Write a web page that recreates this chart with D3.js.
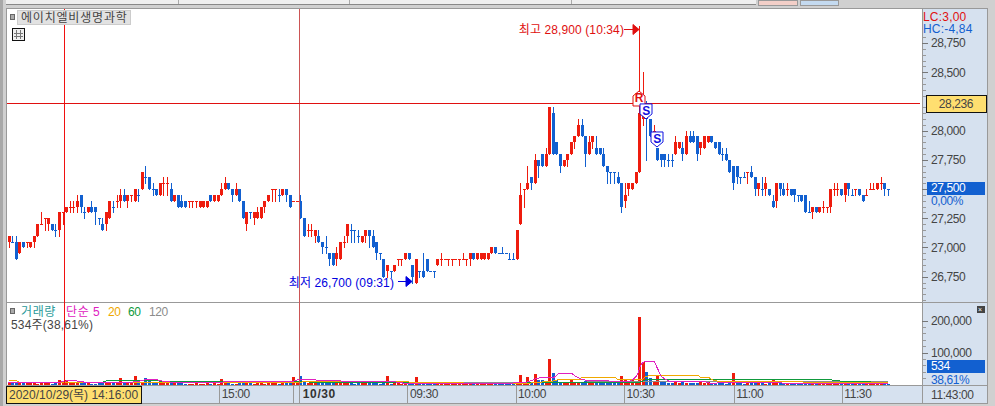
<!DOCTYPE html>
<html lang="ko">
<head>
<meta charset="UTF-8">
<title>에이치엘비생명과학</title>
<script src="https://d3js.org/d3.v7.min.js"></script>
<style>
  html, body { margin: 0; padding: 0; background: #d0d0d0; overflow: hidden; }
  svg { display: block; }
  text { font-family: "Liberation Sans", "Noto Sans CJK KR", sans-serif; font-size: 12px; letter-spacing: -0.4px; fill: #444; }
</style>
</head>
<body>
<div id="chart"></div>
<script>
const opens = [
  27050,27050,27050,26950,27050,27050,27000,27050,27100,27200,
  27250,27200,27200,27150,27150,27300,27300,27350,27350,27350,
  27450,27300,27300,27350,27350,27250,27200,27200,27250,27350,
  27400,27400,27450,27400,27450,27400,27450,27500,27600,27600,
  27500,27500,27450,27550,27550,27500,27400,27450,27400,27400,
  27400,27400,27400,27350,27350,27350,27450,27400,27400,27450,
  27500,27550,27500,27450,27500,27400,27200,27300,27250,27250,
  27250,27350,27400,27500,27500,27450,27450,27500,27450,27400,
  27400,27400,27250,27150,27150,27100,27100,27050,27000,26950,
  26950,26900,26900,27050,27100,27150,27150,27100,27050,27100,
  27150,27100,27050,26950,26900,26800,26800,26800,26900,26900,
  26900,26950,26850,26700,26800,26800,26900,26800,26800,26850,
  26900,26900,26900,26900,26900,26900,26900,26900,26900,26950,
  26900,26900,26900,26900,26950,27000,26950,26950,26950,26900,
  26900,26900,27200,27500,27500,27600,27550,27750,27800,27700,
  27800,28150,27900,27800,27700,27750,27800,27900,27950,28050,
  27950,27800,27900,27850,27850,27800,27700,27650,27650,27600,
  27550,27400,27500,27500,27550,27650,28100,28200,28100,28000,
  27850,27800,27800,27750,27750,27800,27850,27850,27800,27950,
  27950,27950,27850,27850,27900,27950,27900,27900,27800,27800,
  27750,27700,27700,27600,27600,27650,27650,27600,27500,27500,
  27500,27500,27400,27400,27550,27500,27500,27500,27500,27450,
  27450,27450,27300,27300,27350,27300,27350,27350,27350,27500,
  27500,27500,27450,27550,27450,27500,27500,27450,27450,27500,
  27500,27500,27550,27550,27500
];
const closes = [
  27100,27050,26900,27050,27000,27050,27050,27100,27200,27200,
  27250,27250,27150,27150,27300,27300,27350,27350,27350,27400,
  27350,27300,27350,27300,27300,27250,27150,27300,27400,27350,
  27400,27450,27400,27450,27450,27500,27450,27650,27600,27500,
  27500,27450,27550,27550,27550,27400,27450,27350,27350,27350,
  27400,27400,27400,27400,27400,27400,27400,27450,27450,27500,
  27550,27500,27450,27500,27400,27250,27300,27300,27300,27300,
  27350,27400,27450,27500,27500,27450,27500,27450,27350,27400,
  27400,27250,27100,27150,27150,27150,27050,27000,27000,26900,
  26850,26950,27050,27050,27200,27150,27150,27100,27100,27150,
  27100,27000,26950,26950,26750,26850,26800,26850,26900,26900,
  26950,26900,26750,26900,26800,26750,26800,26800,26800,26900,
  26900,26900,26900,26900,26900,26900,26900,26900,26950,26900,
  26950,26950,26950,26950,27000,26950,26950,26950,26950,26900,
  26900,27150,27450,27500,27550,27550,27750,27700,27700,27800,
  28200,27800,27800,27700,27750,27800,27900,27950,28050,27950,
  27800,27900,27950,27800,27800,27700,27650,27650,27650,27550,
  27350,27450,27550,27550,27650,28150,28250,28100,27950,28000,
  27750,27750,27750,27750,27750,27900,27900,27800,27950,27900,
  27900,27800,27900,27950,27950,27900,27850,27800,27800,27750,
  27650,27550,27600,27600,27600,27650,27600,27500,27550,27500,
  27550,27450,27350,27550,27500,27450,27500,27450,27450,27450,
  27400,27300,27300,27350,27300,27350,27350,27350,27500,27500,
  27500,27450,27550,27500,27450,27500,27450,27400,27450,27500,
  27500,27550,27550,27500,27500
];
const highs = [
  27100,27100,27100,27050,27050,27050,27050,27100,27200,27300,
  27250,27250,27200,27200,27300,27300,27350,27400,27400,27450,
  27450,27350,27350,27400,27350,27250,27250,27300,27400,27400,
  27450,27500,27500,27450,27450,27500,27500,27650,27700,27600,
  27550,27500,27550,27600,27600,27550,27450,27450,27450,27400,
  27400,27400,27400,27400,27400,27400,27450,27450,27450,27550,
  27600,27550,27500,27550,27500,27400,27300,27300,27300,27350,
  27350,27400,27450,27500,27500,27500,27500,27500,27450,27400,
  27400,27450,27250,27200,27200,27150,27150,27050,27100,26950,
  26950,27000,27050,27100,27200,27200,27150,27150,27100,27150,
  27150,27150,27050,26950,26900,26850,26800,26850,26900,26900,
  26950,26950,26850,26900,26800,26950,26900,26800,26800,26900,
  26950,26900,26900,26900,26900,26900,26950,26900,26950,26950,
  26950,26950,26950,26950,27000,27000,26950,27000,26950,26950,
  26950,27150,27550,27500,27700,27600,27800,27750,27800,27850,
  28200,28200,27900,27800,27750,27800,27900,27950,28100,28100,
  27950,27950,27950,27950,27850,27850,27700,27650,27650,27650,
  27550,27550,27550,27550,27650,28900,28500,28250,28100,28050,
  27850,27800,27800,27800,27800,27950,27900,27900,28000,28000,
  28000,27950,27900,27950,27950,27950,27900,27900,27850,27850,
  27750,27700,27700,27600,27650,27650,27700,27600,27550,27600,
  27600,27500,27450,27550,27550,27550,27550,27500,27500,27450,
  27450,27450,27400,27350,27350,27350,27400,27350,27500,27550,
  27550,27500,27550,27550,27500,27500,27500,27450,27500,27550,
  27550,27550,27600,27550,27500
];
const lows = [
  27000,27050,26900,26950,27000,27000,27000,27000,27100,27200,
  27150,27150,27150,27100,27100,27200,27300,27300,27300,27300,
  27300,27250,27300,27300,27200,27200,27150,27150,27250,27300,
  27350,27350,27400,27350,27400,27400,27400,27500,27550,27500,
  27450,27450,27450,27450,27450,27400,27400,27350,27350,27350,
  27350,27350,27350,27350,27350,27350,27400,27400,27400,27450,
  27500,27500,27400,27450,27400,27250,27150,27250,27200,27250,
  27250,27300,27400,27400,27400,27400,27450,27400,27350,27400,
  27400,27250,27100,27100,27100,27050,27050,26950,26950,26850,
  26850,26850,26900,27000,27050,27050,27050,27050,27050,27050,
  27000,27000,26900,26900,26750,26750,26750,26800,26850,26850,
  26900,26900,26700,26700,26750,26750,26800,26800,26750,26850,
  26850,26900,26850,26850,26900,26850,26900,26850,26850,26900,
  26900,26900,26900,26900,26950,26950,26950,26950,26950,26900,
  26900,26900,27200,27350,27500,27500,27550,27600,27700,27700,
  27800,27800,27800,27650,27700,27700,27800,27850,27950,27950,
  27700,27800,27850,27800,27800,27700,27550,27550,27550,27550,
  27300,27350,27450,27500,27550,27650,28050,27750,27950,27950,
  27750,27700,27700,27700,27700,27800,27850,27750,27800,27900,
  27900,27750,27800,27850,27900,27900,27850,27800,27750,27750,
  27650,27500,27550,27550,27600,27550,27600,27450,27450,27450,
  27450,27450,27350,27350,27450,27450,27450,27450,27400,27400,
  27400,27300,27300,27250,27300,27300,27300,27300,27300,27450,
  27450,27450,27400,27450,27450,27450,27450,27400,27450,27500,
  27500,27500,27500,27450,27450
];
// 시가=종가인데 파란색으로 찍힌 봉
const flatDown = [1,13,21,25,29,36,38,40,67,75,88,95,96,97,103,106,114,117,118,136,137,138,139,140,167,168,183,184,198,203,204,209,219,222,234,244];
const volumes = [
  6000,8000,9000,5000,4000,6000,5000,4000,3000,4000,
  5000,4000,3000,4000,15000,6000,14000,8000,7000,9000,
  6000,5000,4000,3000,3000,4000,5000,6000,4000,5000,
  7000,20000,6000,7000,5000,26000,9000,9000,21000,16000,
  9000,6000,5000,8000,4000,6000,5000,7000,4000,3000,
  2500,3000,4000,3000,3000,3500,3000,5000,3000,18000,
  5000,4000,3000,3000,9000,10000,5000,4000,3000,4000,
  4000,3000,6000,4000,5000,3000,4000,4000,5000,23000,
  5000,26000,8000,5000,4000,6000,5000,11000,6000,11000,
  8000,7000,10000,5000,6000,4000,3000,4000,6000,5000,
  5000,4000,6000,3000,5000,28000,3000,5000,4000,3000,
  4000,3000,6000,22000,4000,6000,4000,2000,2000,4000,
  3000,2000,2000,3000,2000,2000,3000,4000,5000,2000,
  3000,2000,3000,3000,4000,3000,2000,2000,2000,2000,
  3000,9000,31000,5000,24000,7000,34000,14000,14000,11000,
  81000,36000,13000,8000,7000,5000,14000,6000,5000,8000,
  10000,6000,14000,8000,7000,6000,5000,5000,4000,7000,
  28000,18000,8000,14000,9000,213000,72000,39000,20000,8000,
  26000,10000,7000,6000,5000,8000,6000,9000,5000,4000,
  6000,5000,7000,4000,8000,5000,4000,6000,5000,3000,
  10000,37000,6000,4000,3000,5000,4000,6000,5000,4000,
  3000,5000,13000,5000,4000,3000,4000,5000,3000,2000,
  3000,4000,2000,3000,2000,3000,2000,3000,4000,3000,
  2000,3000,4000,2000,3000,2000,2000,3000,2000,2000,
  3000,2000,3000,2000,534
];
// 봉은 파란데 거래량은 빨간 곳
const volumeRed = [170,180,201,212];

const ma5Idx = [0,14,16,19,22,32,36,39,41,44,55,60,66,78,81,84,87,92,97,105.5,111,134,143.6,146.4,148,151,153,156,157.6,160,172,174.5,175.4,177,179,180,181,182,184.3,193,195,198,210,220,244];
const ma5Val = [5000,7000,11000,11000,6000,6000,10000,17000,15000,8000,6000,8000,9000,8000,16000,16000,11000,11000,8500,10000,3000,3000,7000,18000,22000,21000,35000,35000,24000,14000,10000,31000,60000,73000,73000,52000,28000,18000,8500,8500,3000,6000,6000,3000,3000];
const ma20Idx = [0,2,3,53,79,84,98,134,144,147,151,153,158.6,159,168.4,169,176,177,178,191.5,192,194,195,197,220,220.8,244];
const ma20Val = [12000,12000,7000,6000,6000,9500,9500,4000,4000,7000,10500,16000,16000,21000,21000,17000,17000,26000,27000,27000,23000,23000,16000,10500,10500,5000,5000];
const ma60Idx = [0,26,27,41,134,140,144,175,177,196,210,228,232,234,244];
const ma60Val = [7000,7000,11000,11000,4000,4000,7000,7000,15000,15000,15000,14500,9500,9500,5000];
const ma120Idx = [98,139,175,196,244];
const ma120Val = [7500,7500,8000,10500,10500];

const priceTicks = [26750,27000,27250,27500,27750,28000,28500,28750];
const timeTickIdx = [58.5,78.8,80.7,110.7,140.7,170.8,201.2,231.2];
const timeTickLabels = ["15:00","","10/30","09:30","10:00","10:30","11:00","11:30"];
const volumeTicks = [100000,200000];

const red = "#ee1c0e", blue = "#1260d0";
const W = 995, H = 406;
const plotLeft = 7, plotRight = 922, plotTop = 9, sepY = 302, plotBottom = 385, axisEnd = 987;

const svg = d3.select("#chart").append("svg").attr("width", W).attr("height", H);

const x = d3.scaleLinear().domain([0, 244]).range([8.5, 887.9]);
const y = d3.scaleLinear().domain([26700, 28900]).range([282.5, 25.5]);
const yVol = d3.scaleLinear().domain([0, 200000]).range([384.5, 320.7]);
const px = v => Math.round(v);

// 창 테두리, 상단 툴바 조각
svg.append("rect").attr("width", W).attr("height", H).attr("fill", "#d0d0d0");
svg.append("rect").attr("x", 0).attr("y", 0).attr("width", 3).attr("height", H).attr("fill", "#a8a8a8");
svg.append("rect").attr("x", 6).attr("y", 0).attr("width", 750).attr("height", 4).attr("fill", "#efefef");
svg.append("rect").attr("x", 6).attr("y", 4).attr("width", 750).attr("height", 1).attr("fill", "#888");
[178, 349, 571].forEach(d => svg.append("rect").attr("x", d).attr("y", 0).attr("width", 1).attr("height", 4).attr("fill", "#aaa"));
svg.append("rect").attr("x", 758).attr("y", 0).attr("width", 39).attr("height", 5).attr("fill", "#f3cfc8").attr("stroke", "#999").attr("shape-rendering", "crispEdges");
svg.append("rect").attr("x", 800).attr("y", 0).attr("width", 38).attr("height", 5).attr("fill", "#c4daf0").attr("stroke", "#999").attr("shape-rendering", "crispEdges");

// 차트 영역
svg.append("rect").attr("x", plotLeft).attr("y", plotTop).attr("width", plotRight - plotLeft).attr("height", plotBottom - plotTop).attr("fill", "#fff");
svg.append("rect").attr("x", plotRight).attr("y", plotTop).attr("width", axisEnd - plotRight).attr("height", 395).attr("fill", "#d6e1ef");
svg.append("rect").attr("x", plotLeft).attr("y", plotBottom + 1).attr("width", plotRight - plotLeft).attr("height", 18).attr("fill", "#d6e1ef");

const frame = svg.append("g").attr("shape-rendering", "crispEdges").attr("fill", "#999");
frame.append("rect").attr("x", plotLeft - 1).attr("y", 8).attr("width", axisEnd - plotLeft + 2).attr("height", 1);
frame.append("rect").attr("x", plotLeft - 1).attr("y", 8).attr("width", 1).attr("height", 396);
frame.append("rect").attr("x", axisEnd).attr("y", 8).attr("width", 1).attr("height", 396);
frame.append("rect").attr("x", plotLeft - 1).attr("y", sepY).attr("width", axisEnd - plotLeft + 2).attr("height", 1);
frame.append("rect").attr("x", plotLeft - 1).attr("y", plotBottom).attr("width", axisEnd - plotLeft + 2).attr("height", 1);
frame.append("rect").attr("x", plotLeft - 1).attr("y", 403).attr("width", axisEnd - plotLeft + 2).attr("height", 1);
frame.append("rect").attr("x", plotRight).attr("y", 8).attr("width", 1).attr("height", 396);

// 거래량
const isUp = i => closes[i] > opens[i] || (closes[i] === opens[i] && !flatDown.includes(i));
svg.append("g").attr("shape-rendering", "crispEdges").selectAll("rect").data(volumes).join("rect")
  .attr("x", (d, i) => px(x(i)) - 1)
  .attr("width", 3)
  .attr("y", d => px(yVol(d)))
  .attr("height", d => Math.max(1, px(yVol(0)) - px(yVol(d))))
  .attr("fill", (d, i) => (isUp(i) || volumeRed.includes(i)) ? red : blue);

const maLines = [[ma120Idx, ma120Val, "#8c8c8c"], [ma60Idx, ma60Val, "#0f9a3c"], [ma20Idx, ma20Val, "#f0a800"], [ma5Idx, ma5Val, "#e020c0"]];
maLines.forEach(([idx, vals, color]) => {
  const line = d3.line().x(d => x(d)).y((d, i) => yVol(vals[i])).curve(d3.curveMonotoneX);
  svg.append("path").attr("d", line(idx)).attr("fill", "none").attr("stroke", color).attr("stroke-width", 1).attr("shape-rendering", "crispEdges");
});

// 캔들
const candle = svg.append("g").attr("shape-rendering", "crispEdges").selectAll("g").data(opens).join("g")
  .attr("fill", (d, i) => isUp(i) ? red : blue);
candle.append("rect")
  .attr("x", (d, i) => px(x(i)))
  .attr("width", 1)
  .attr("y", (d, i) => px(y(highs[i])))
  .attr("height", (d, i) => px(y(lows[i])) - px(y(highs[i])) + 1);
candle.append("rect")
  .attr("x", (d, i) => px(x(i)) - 1)
  .attr("width", 3)
  .attr("y", (d, i) => px(y(Math.max(opens[i], closes[i]))))
  .attr("height", (d, i) => Math.max(1, px(y(Math.min(opens[i], closes[i]))) - px(y(Math.max(opens[i], closes[i])))));

// 커서, 구분선
const cursorIdx = 15.4, dateIdx = 80.7, cursorPrice = 28236;
svg.append("g").attr("shape-rendering", "crispEdges").call(g => {
  g.append("rect").attr("x", px(x(cursorIdx))).attr("y", plotTop).attr("width", 1).attr("height", plotBottom - plotTop).attr("fill", "#f01010");
  g.append("rect").attr("x", px(x(dateIdx))).attr("y", plotTop).attr("width", 1).attr("height", plotBottom - plotTop).attr("fill", "#cc5555");
  g.append("rect").attr("x", plotLeft).attr("y", px(y(cursorPrice))).attr("width", plotRight - plotLeft - 2).attr("height", 1).attr("fill", "#e01010");
});

// 매매 신호 마커
const signalIdx = [175, 177, 180];
const signalLabels = ["R", "S", "S"];
const signalPrices = [28211, 28220, 27980];
signalIdx.forEach((d, i) => {
  const cx = px(x(d)), cy = y(signalPrices[i]), up = signalLabels[i] === "R";
  const color = up ? "#e01010" : "#1010e0";
  const pts = up
    ? [[-6,14],[6,14],[6,4],[0,-1],[-6,4]]
    : [[-6,-1],[6,-1],[6,9],[0,14],[-6,9]];
  svg.append("polygon").attr("points", pts.map(p => [cx + p[0], cy + (up ? -14 : 0) + p[1]].join(",")).join(" "))
    .attr("fill", "#fff").attr("stroke", color).attr("stroke-width", 1);
  svg.append("text").attr("x", cx).attr("y", cy + (up ? -14 : 0) + 10).attr("text-anchor", "middle")
    .attr("font-weight", "bold").style("fill", color).text(signalLabels[i]);
});

// 최고 / 최저 표시
const hiIdx = 175, loIdx = 113;
const hiY = y(28900) + 4, loY = y(26700);
svg.append("text").attr("x", px(x(hiIdx)) - 15).attr("y", hiY + 4).attr("text-anchor", "end").style("fill", "#e01010").style("letter-spacing", "0.1px").text("최고 28,900 (10:34)");
svg.append("path").attr("d", `M${px(x(hiIdx)) - 15},${hiY}H${px(x(hiIdx)) - 6}M${px(x(hiIdx)) - 6},${hiY - 5}L${px(x(hiIdx))},${hiY}L${px(x(hiIdx)) - 6},${hiY + 5}Z`).attr("fill", "#e01010").attr("stroke", "#e01010");
svg.append("text").attr("x", px(x(loIdx)) - 22).attr("y", loY + 4).attr("text-anchor", "end").style("fill", "#0000e0").style("letter-spacing", "0.1px").text("최저 26,700 (09:31)");
svg.append("path").attr("d", `M${px(x(loIdx)) - 18},${loY - 1}H${px(x(loIdx)) - 10}M${px(x(loIdx)) - 10},${loY - 6}L${px(x(loIdx)) - 4},${loY - 1}L${px(x(loIdx)) - 10},${loY + 4}Z`).attr("fill", "#0000e0").attr("stroke", "#0000e0");

// 가격축 (27,500은 아래 값 상자가 대신 표시)
const priceAxis = d3.axisRight(y).tickValues(priceTicks).tickSize(6).tickPadding(3).tickFormat(d => d === 27500 ? "" : d3.format(",")(d));
svg.append("g").attr("transform", `translate(${plotRight},0)`).attr("shape-rendering", "crispEdges").call(priceAxis)
  .call(g => g.select(".domain").remove())
  .call(g => g.selectAll("line").attr("stroke", "#777"));
const minorPrice = d3.range(26500, 29100, 50).filter(d => y(d) > plotTop + 24 && y(d) < sepY && d % 250 !== 0);
svg.append("g").attr("shape-rendering", "crispEdges").selectAll("rect").data(minorPrice).join("rect")
  .attr("x", plotRight + 1).attr("y", d => px(y(d))).attr("width", 3).attr("height", 1).attr("fill", "#999");

// 거래량축
const volAxis = d3.axisRight(yVol).tickValues(volumeTicks).tickSize(6).tickPadding(3).tickFormat(d3.format(","));
svg.append("g").attr("transform", `translate(${plotRight},0)`).attr("shape-rendering", "crispEdges").call(volAxis)
  .call(g => g.select(".domain").remove())
  .call(g => g.selectAll("line").attr("stroke", "#777"));
const minorVol = d3.range(20000, 220000, 20000).filter(d => !volumeTicks.includes(d));
svg.append("g").attr("shape-rendering", "crispEdges").selectAll("rect").data(minorVol).join("rect")
  .attr("x", plotRight + 1).attr("y", d => px(yVol(d))).attr("width", 3).attr("height", 1).attr("fill", "#999");

// 시간축
const timeAxis = d3.axisBottom(x).tickValues(timeTickIdx).tickSize(18).tickFormat((d, i) => timeTickLabels[i]);
svg.append("g").attr("transform", `translate(0,${plotBottom})`).attr("shape-rendering", "crispEdges").call(timeAxis)
  .call(g => g.select(".domain").remove())
  .call(g => g.selectAll("line").attr("stroke", "#999"))
  .call(g => g.selectAll("text").attr("text-anchor", "start").attr("x", 2).attr("y", 4).attr("dy", "0.71em").attr("font-size", 12).attr("font-family", null))
  .call(g => g.selectAll("text").filter(d => d === 80.7).attr("font-weight", "bold").style("fill", "#333").style("letter-spacing", "0.6px").attr("x", 3));
svg.append("text").attr("x", 931).attr("y", 399).text("11:43:00");

// 우측 값 상자
svg.append("text").attr("x", 923).attr("y", 21).style("fill", "#e01010").style("letter-spacing", "0.2px").text("LC:3,00");
svg.append("text").attr("x", 923).attr("y", 33).style("fill", "#1260d0").style("letter-spacing", "0.2px").text("HC:-4,84");
svg.append("rect").attr("x", 926).attr("y", 95).attr("width", 60).attr("height", 17).attr("fill", "#ffdf70").attr("stroke", "#111").attr("shape-rendering", "crispEdges");
svg.append("text").attr("x", 956).attr("y", 108).attr("text-anchor", "middle").text("28,236");
svg.append("rect").attr("x", 927).attr("y", 182).attr("width", 58).attr("height", 13).attr("fill", "#1260d0");
svg.append("text").attr("x", 931).attr("y", 192).style("fill", "#fff").text("27,500");
svg.append("text").attr("x", 931).attr("y", 205).style("fill", "#1260d0").text("0,00%");
svg.append("rect").attr("x", 927).attr("y", 360).attr("width", 58).attr("height", 13).attr("fill", "#1260d0");
svg.append("text").attr("x", 931).attr("y", 370).style("fill", "#fff").text("534");
svg.append("text").attr("x", 931).attr("y", 384).style("fill", "#1260d0").text("38,61%");
svg.append("rect").attr("x", 977).attr("y", 306).attr("width", 8).attr("height", 7).attr("fill", "#444");
svg.append("text").attr("x", 978).attr("y", 312).style("fill", "#fff").style("font-size", "7px").text("×");

// 종목명, 범례
svg.append("rect").attr("x", 10.5).attr("y", 14.5).attr("width", 4).attr("height", 5).attr("fill", "#aaa").attr("stroke", "#666");
svg.append("rect").attr("x", 17.5).attr("y", 10.5).attr("width", 113).attr("height", 14).attr("fill", "#e2e2e2").attr("stroke", "#ccc");
svg.append("text").attr("x", 21).attr("y", 22).style("letter-spacing", "0.8px").text("에이치엘비생명과학");
const icon = svg.append("g").attr("shape-rendering", "crispEdges");
icon.append("rect").attr("x", 12.5).attr("y", 28.5).attr("width", 12).attr("height", 12).attr("fill", "#eee").attr("stroke", "#111");
[16, 20].forEach(d => icon.append("rect").attr("x", d).attr("y", 30).attr("width", 1).attr("height", 9).attr("fill", "#777"));
[33, 36].forEach(d => icon.append("rect").attr("x", 14).attr("y", d).attr("width", 9).attr("height", 1).attr("fill", "#777"));

svg.append("rect").attr("x", 10.5).attr("y", 308.5).attr("width", 4).attr("height", 5).attr("fill", "#aaa").attr("stroke", "#666");
const legendLabels = ["거래량", "단순", "5", "20", "60", "120"];
const legendX = [21, 66, 93, 108, 128, 149];
const legendColors = ["#2a9a9a", "#e020c0", "#e020c0", "#f0a800", "#0f9a3c", "#8c8c8c"];
legendLabels.forEach((d, i) => svg.append("text").attr("x", legendX[i]).attr("y", 316).style("fill", legendColors[i]).style("letter-spacing", i < 2 ? "0.6px" : "-0.4px").text(d));
svg.append("text").attr("x", 11).attr("y", 329).style("letter-spacing", "0.2px").text("534주(38,61%)");

// 커서 날짜 상자
svg.append("rect").attr("x", 6.5).attr("y", 386.5).attr("width", 135).attr("height", 17).attr("fill", "#ffdf70").attr("stroke", "#111");
svg.append("text").attr("x", 9).attr("y", 399).style("letter-spacing", "0px").text("2020/10/29(목) 14:16:00");
</script>
</body>
</html>
